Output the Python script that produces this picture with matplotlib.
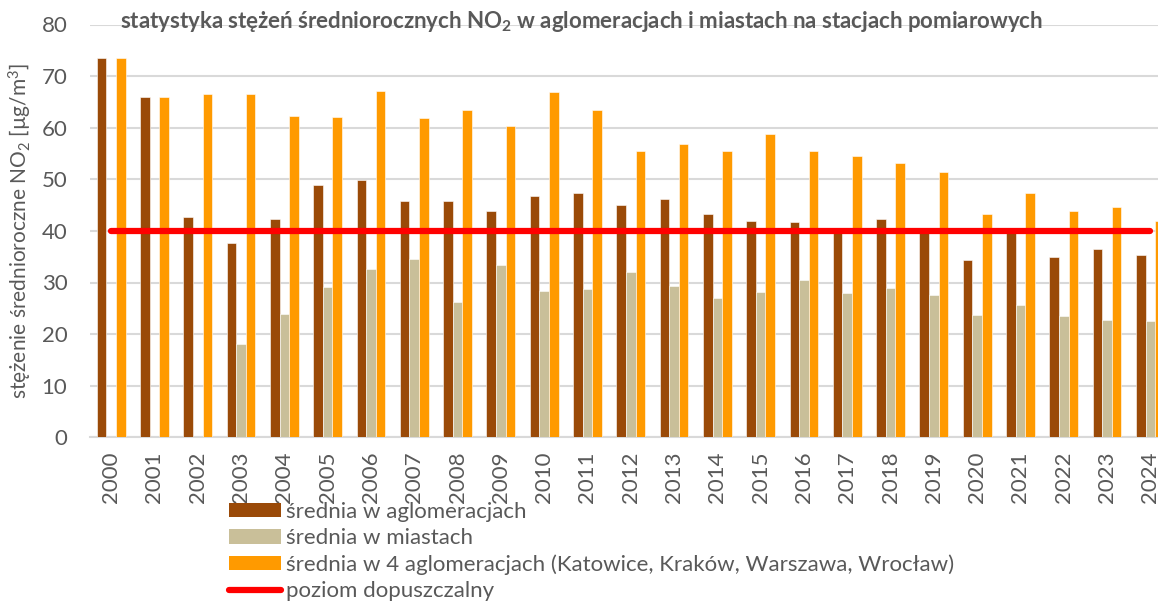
import matplotlib; matplotlib.use("Agg")
import matplotlib.pyplot as plt
from matplotlib.lines import Line2D
from matplotlib.patches import Patch
import numpy as np

plt.rcParams['font.family'] = ['Lato', 'DejaVu Sans']
plt.rcParams['mathtext.fontset'] = 'custom'
plt.rcParams['mathtext.rm'] = 'Lato'
plt.rcParams['mathtext.it'] = 'Lato:italic'
plt.rcParams['mathtext.bf'] = 'Lato:bold'

# ── data ───────────────────────────────────────────────────────────────────
years = list(range(2000, 2025))
aglomeracje = [73.6, 66.0, 42.7, 37.6, 42.3, 48.8, 49.8, 45.7, 45.7, 43.9,
               46.7, 47.3, 45.0, 46.2, 43.3, 41.9, 41.7, 39.8, 42.3, 39.8,
               34.4, 39.7, 34.9, 36.4, 35.3]
miasta = [np.nan, np.nan, np.nan, 18.0, 23.8, 29.2, 32.6, 34.6, 26.2, 33.3,
          28.4, 28.7, 32.0, 29.3, 26.9, 28.2, 30.4, 27.9, 28.9, 27.6,
          23.7, 25.6, 23.6, 22.8, 22.5]
cztery_aglo = [73.6, 66.0, 66.5, 66.5, 62.3, 62.1, 67.1, 61.9, 63.4, 60.3,
               66.9, 63.4, 55.5, 56.9, 55.4, 58.7, 55.4, 54.6, 53.1, 51.4,
               43.2, 47.4, 43.8, 44.6, 41.9]
limit = [40] * len(years)

labels = ["średnia w aglomeracjach",
          "średnia w miastach",
          "średnia w 4 aglomeracjach (Katowice, Kraków, Warszawa, Wrocław)",
          "poziom dopuszczalny"]

C_BROWN = "#9A4A08"
C_BEIGE = "#C9BF99"
C_ORANGE = "#FF9A00"
C_RED = "#FF0000"
C_TEXT = "#595959"
C_GRID = "#D9D9D9"

W, H = 1158, 601
fig = plt.figure(figsize=(W / 100, H / 100), dpi=100)
# axes runs slightly past the right edge, like the cropped original
ax = fig.add_axes([89.5 / W, (H - 437.3) / H, 1082.5 / W, (437.3 - 24.5) / H])

x = np.arange(len(years))
bw = 0.222
kw = dict(width=bw, edgecolor="white", linewidth=0.4, zorder=3)
ax.bar(x - bw, aglomeracje, color=C_BROWN, **kw)
ax.bar(x, miasta, color=C_BEIGE, **kw)
ax.bar(x + bw, cztery_aglo, color=C_ORANGE, **kw)
ax.plot(x, limit, color=C_RED, linewidth=4.5, solid_capstyle="round", zorder=4)

ax.set_xlim(-0.5, len(years) - 0.5)
ax.set_ylim(0, 80)
ax.set_yticks(range(0, 81, 10))
ax.set_xticks(x)
ax.set_xticklabels([str(y) for y in years], rotation=90)
ax.tick_params(axis="both", length=0, labelsize=16, colors=C_TEXT)
ax.tick_params(axis="x", pad=10)
ax.tick_params(axis="y", pad=16)
ax.grid(axis="y", color=C_GRID, linewidth=1.5, zorder=0)
for s in ("top", "right", "left"):
    ax.spines[s].set_visible(False)
ax.spines["bottom"].set_color(C_GRID)
ax.spines["bottom"].set_linewidth(1.5)

ax.set_ylabel("stężenie średnioroczne NO$_2$ [µg/m$^3$]", fontsize=15,
              color=C_TEXT, labelpad=5)

fig.text(0.502, 1 - 22 / H,
         "statystyka stężeń średniorocznych NO$_\\mathbf{2}$ w aglomeracjach i miastach na stacjach pomiarowych",
         ha="center", va="center", fontsize=16, fontweight="bold", color=C_TEXT)

handles = [Patch(facecolor=C_BROWN), Patch(facecolor=C_BEIGE),
           Patch(facecolor=C_ORANGE),
           Line2D([0], [0], color=C_RED, linewidth=4.5, solid_capstyle="round")]
fig.legend(handles, labels, loc="upper left",
           bbox_to_anchor=(229 / W, (H - 502) / H), frameon=False,
           fontsize=16, labelcolor=C_TEXT, handlelength=2.34,
           handleheight=0.63, handletextpad=0.22, labelspacing=0.28,
           borderaxespad=0, borderpad=0)

fig.savefig("out.png", dpi=100)
